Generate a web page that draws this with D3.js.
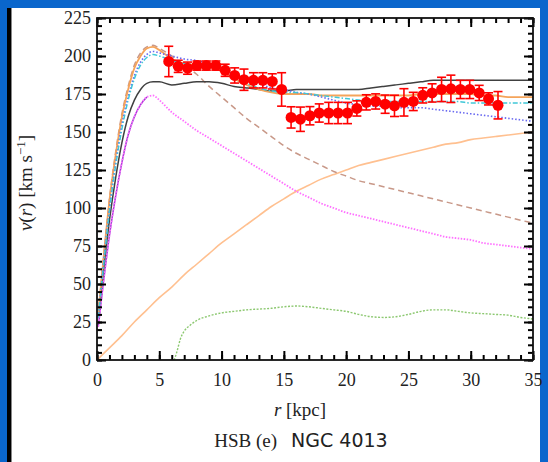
<!DOCTYPE html>
<html><head><meta charset="utf-8">
<script src="https://cdn.jsdelivr.net/npm/d3@7"></script>
<style>
html,body{margin:0;padding:0;background:#0a66cc;}
svg{display:block;}
</style></head>
<body>
<svg id="chart" width="548" height="462"></svg>
<script>
// ---- data ----
const obsR = [5.76,6.52,7.27,8.03,8.78,9.54,10.29,11.05,11.80,12.56,13.31,14.07,14.82,15.58,16.33,17.09,17.84,18.60,19.35,20.11,20.86,21.62,22.37,23.13,23.88,24.64,25.39,26.15,26.90,27.66,28.41,29.17,29.92,30.68,31.43,32.19];
const obsV = [196.4,193.2,192.0,193.7,193.7,193.7,190.6,187.2,184.4,184.0,184.0,183.3,178.0,159.6,158.4,160.7,162.5,162.5,162.5,162.5,165.5,169.5,170.1,168.3,167.2,169.5,170.1,174.1,175.7,178.0,178.4,178.0,178.0,175.7,171.8,167.6];
const obsErr = [10,4,4,3,3,3,4,5,7,5,5,5,11,7,8,6,6,7,7,7,5,5,5,6,7,9,6,5,6,8,9,6,6,5,4,9];

const modelR = [0.1,0.5,1,1.5,2,2.5,3,3.5,4,4.5,5,6,7,8,9,10,11,12,13,14,15,16,17,18,19,20,21,22,23,24,25,26,27,28,29,30,31,32,33,34,35];
const vOrange = [30,65,105,135,160,178,192,200,205,206,204,198,195,194,193,190,185,181,178,176,175,175,175,174,174,174,174,174,174,174,174,175,175,175,175,175,174,174,173,173,173];
const vCyan = [28,60,98,128,152,171,185,194,199,201,200,197,195,194,193,190,186,182,179,177,176,176,175,174,173,172,171,170,170,170,170,170,170,170,170,169,169,169,169,169,169];
const vBlue = [28,62,100,130,155,173,187,196,201,203,202,200,198,197,195,192,188,185,182,179,178,176,175,173,171,169,168,167,167,166,166,166,165,164,163,162,161,160,159,158,157];
const vBlack = [30,58,92,120,143,160,171,178,182,183,183,181,182,183,183,182,180,179,178,177,177,178,178,178,178,178,178,179,180,181,182,183,184,184,184,184,184,184,184,184,184];
const vBrown = [30,65,106,137,162,180,194,202,206,207,205,200,194,188,180,173,166,159,153,147,141,136,132,128,124,121,118,116,114,112,110,108,106,104,102,100,98,96,94,92,90];
const vMagenta = [22,50,82,108,130,148,160,168,173,174,171,163,157,151,146,141,136,131,126,121,116,111,107,103,100,97,95,93,91,89,87,85,83,81,80,79,77,76,75,74,73];
const purpleR = [0.1,0.5,1,1.5,2,2.5,3,3.5,4];
const vPurple = [22,50,82,108,130,148,160,168,173];
const haloR = [0,1,2,3,4,5,6,7,8,9,10,11,12,13,14,15,16,17,18,19,20,21,22,23,24,25,26,27,28,29,30,31,32,33,34,35];
const vHalo = [0,8,16,25,33,41,48,56,63,70,77,83,89,95,101,106,111,115,119,122,125,128,130,132,134,136,138,140,142,143,145,146,147,148,149,150];
const gasR = [6.2,6.4,6.7,7,7.5,8,9,10,11,12,13,14,15,16,17,18,19,20,21,22,23,24,25,26,27,28,29,30,31,32,33,34,35];
const vGas = [0,5,14,19,23,26,29,31,32,33,33.5,34,35,35.5,35,34,33,32,30,28.5,28,28.5,30,32,33,33,32,31,30.5,30,29.5,28,27];

const xTicks = [0,5,10,15,20,25,30,35];
const yTicks = [0,25,50,75,100,125,150,175,200,225];
const xMinor = [0,1,2,3,4,5,6,7,8,9,10,11,12,13,14,15,16,17,18,19,20,21,22,23,24,25,26,27,28,29,30,31,32,33,34,35];
const yMinor = [0,5,10,15,20,25,30,35,40,45,50,55,60,65,70,75,80,85,90,95,100,105,110,115,120,125,130,135,140,145,150,155,160,165,170,175,180,185,190,195,200,205,210,215,220,225];

// ---- layout ----
const svg = d3.select("#chart");
svg.append("rect").attr("x",12).attr("y",8).attr("width",528).attr("height",454).attr("fill","#fff");
svg.append("rect").attr("x",7).attr("y",8).attr("width",4).attr("height",454).attr("fill","#000");
svg.append("rect").attr("x",11).attr("y",8).attr("width",1).attr("height",454).attr("fill","#888");

const L=97, R=533, T=18, B=360;
const x = d3.scaleLinear().domain([0,35]).range([L,R]);
const y = d3.scaleLinear().domain([0,225]).range([B,T]);

const g = svg.append("g");
svg.append("clipPath").attr("id","plotclip").append("rect").attr("x",L).attr("y",T).attr("width",R-L).attr("height",B-T);
const pg = g.append("g").attr("clip-path","url(#plotclip)");

function curve(rs, vs, color, width, dash){
  const line = d3.line().x((d,i)=>x(rs[i])).y(d=>y(d)).curve(d3.curveMonotoneX);
  const p = pg.append("path").datum(vs).attr("d",line).attr("fill","none")
    .attr("stroke",color).attr("stroke-width",width).attr("stroke-linejoin","round");
  if(dash) p.attr("stroke-dasharray",dash);
  return p;
}
curve(haloR, vHalo, "#ffc090", 1.6);
curve(gasR, vGas, "#8cc870", 1.4, "2,1.5");
curve(purpleR, vPurple, "#9b40d0", 1.5);
curve(modelR, vMagenta, "#ff70ff", 1.8, "1.5,1.5");
curve(modelR, vBrown, "#c89888", 1.5, "6,4");
curve(modelR, vBlack, "#404040", 1.5);
curve(modelR, vOrange, "#f5a45a", 1.8);
curve(modelR, vBlue, "#6868f0", 1.6, "1.5,2");
curve(modelR, vCyan, "#40c8d8", 1.5, "5,2,1.5,2");

// error bars and points
const pts = g.append("g");
obsR.forEach((r,i)=>{
  const cx=x(r), y1=y(obsV[i]-obsErr[i]), y2=y(obsV[i]+obsErr[i]);
  pts.append("line").attr("x1",cx).attr("x2",cx).attr("y1",y1).attr("y2",y2).attr("stroke","#f00").attr("stroke-width",1.6);
  pts.append("line").attr("x1",cx-4.5).attr("x2",cx+4.5).attr("y1",y1).attr("y2",y1).attr("stroke","#f00").attr("stroke-width",1.6);
  pts.append("line").attr("x1",cx-4.5).attr("x2",cx+4.5).attr("y1",y2).attr("y2",y2).attr("stroke","#f00").attr("stroke-width",1.6);
});
pts.selectAll("circle").data(obsV).join("circle")
  .attr("cx",(d,i)=>x(obsR[i])).attr("cy",d=>y(d)).attr("r",5.5).attr("fill","#f00");

// ticks (inward on all four sides) with d3 axes
function tickAxis(gen, tr, vals, size){
  const a = svg.append("g").attr("transform",tr)
    .call(gen.tickValues(vals).tickSize(size).tickFormat(""));
  a.select(".domain").remove();
  a.selectAll(".tick line").attr("stroke","#000").attr("stroke-width",2);
}
tickAxis(d3.axisTop(x), `translate(0,${B})`, xMinor, 5);
tickAxis(d3.axisTop(x), `translate(0,${B})`, xTicks, 9);
tickAxis(d3.axisBottom(x), `translate(0,${T})`, xMinor, 5);
tickAxis(d3.axisBottom(x), `translate(0,${T})`, xTicks, 9);
tickAxis(d3.axisRight(y), `translate(${L},0)`, yMinor, 5);
tickAxis(d3.axisRight(y), `translate(${L},0)`, yTicks, 9);
tickAxis(d3.axisLeft(y), `translate(${R},0)`, yMinor, 5);
tickAxis(d3.axisLeft(y), `translate(${R},0)`, yTicks, 9);
svg.append("rect").attr("x",L).attr("y",T).attr("width",R-L).attr("height",B-T).attr("fill","none").attr("stroke","#111").attr("stroke-width",1.8);

// tick labels
const fmt = d3.format("d");
const xl = svg.append("g").attr("transform",`translate(0,${B})`).call(d3.axisBottom(x).tickValues(xTicks).tickSize(0).tickPadding(13).tickFormat(fmt));
xl.select(".domain").remove();
xl.selectAll("text").attr("font-family","'Liberation Serif',serif").attr("font-size",18).attr("fill","#222");
const yl = svg.append("g").attr("transform",`translate(${L},0)`).call(d3.axisLeft(y).tickValues(yTicks).tickSize(0).tickPadding(6).tickFormat(fmt));
yl.select(".domain").remove();
yl.selectAll("text").attr("font-family","'Liberation Serif',serif").attr("font-size",18).attr("fill","#222");

// axis titles
const xt = svg.append("text").attr("x",300).attr("y",416).attr("text-anchor","middle")
  .attr("font-family","'Liberation Serif',serif").attr("font-size",19).attr("fill","#222");
xt.append("tspan").attr("font-style","italic").text("r");
xt.append("tspan").text(" [kpc]");

const yt = svg.append("text").attr("transform","translate(32,183) rotate(-90)").attr("text-anchor","middle")
  .attr("font-family","'Liberation Serif',serif").attr("font-size",19).attr("fill","#222");
yt.append("tspan").attr("font-style","italic").text("v");
yt.append("tspan").text("(");
yt.append("tspan").attr("font-style","italic").text("r");
yt.append("tspan").text(") [km s");
yt.append("tspan").attr("font-size",13).attr("dy",-7).text("−1");
yt.append("tspan").attr("dy",7).text("]");

const title = svg.append("text").attr("x",301).attr("y",447).attr("text-anchor","middle").attr("fill","#222");
title.append("tspan").attr("font-family","'Liberation Serif',serif").attr("font-size",19).text("HSB (e)");
title.append("tspan").attr("font-family","'DejaVu Sans','Liberation Sans',sans-serif").attr("font-size",19).attr("dx",14).text("NGC 4013");
</script>
</body></html>
